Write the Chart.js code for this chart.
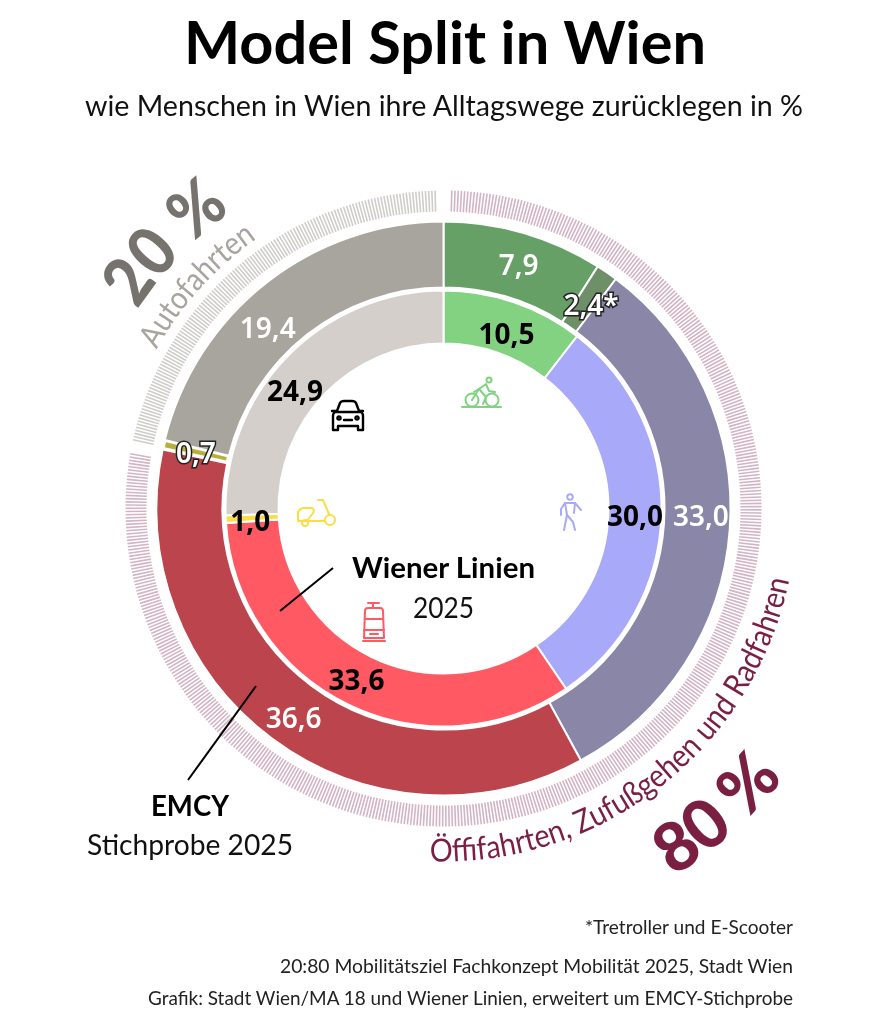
<!DOCTYPE html>
<html lang="de">
<head>
<meta charset="utf-8">
<title>Model Split in Wien</title>
<script src="https://cdn.jsdelivr.net/npm/chart.js@4"></script>
<style>
  html, body { margin: 0; padding: 0; background: #fff; }
  #wrap { position: relative; width: 889px; height: 1024px; overflow: hidden; }
  #myChart, #overlay { position: absolute; left: 0; top: 0; }
  svg text { font-family: Lato, sans-serif; fill: #111; }
  .num { font-family: "Noto Sans", sans-serif; font-weight: 600; font-size: 28px; text-anchor: middle; dominant-baseline: central; }
</style>
</head>
<body>
<div id="wrap">
  <canvas id="myChart" width="889" height="1024"></canvas>
  <svg id="overlay" width="889" height="1024" xmlns="http://www.w3.org/2000/svg"></svg>
</div>
<script>
const categories = ['Rad', 'Tretroller und E-Scooter', 'Zufußgehen', 'Öffifahrten', 'Moped', 'Autofahrten'];

// Wiener Linien 2025, inner ring
const wlCategories = ['Rad', 'Zufußgehen', 'Öffifahrten', 'Moped', 'Autofahrten'];
const wlValues = [10.5, 30.0, 33.6, 1.0, 24.9];
const wlLabels = ['10,5', '30,0', '33,6', '1,0', '24,9'];
// slice sizes (degrees), the thin moped slice is not to scale there
const wlSweep = [37.8, 108, 120.4, 2.0, 91.8];

// EMCY Stichprobe 2025, outer ring
const emcyValues = [7.9, 2.4, 33.0, 36.6, 0.7, 19.4];
const emcyLabels = ['7,9', '2,4*', '33,0', '36,6', '0,7', '19,4'];
// the reference does not draw this ring to scale, these are the sweeps read off it (degrees)
const emcySweep = [32.5, 4.4, 114.5, 130.6, 1.8, 76.2];

// target ring 80/20, sweeps in degrees with the small gaps between the two parts
const goalSweep = [1.5, 278.5, 2.5, 76.5, 1];
const goalColors = [null, '#d3b4c3', null, '#cfcdca', null];

const wlColors = ['#82d282', '#a9a9f9', '#ff5a64', '#f7df45', '#d4cfca'];
const emcyColors = ['#66a066', '#6f8f69', '#8a86a8', '#bc444c', '#b9b03c', '#a8a49e'];
const emcyBorders = [2, 2, 2, 2, 3.5, 2];
const wlBorders = [2, 2, 2, 2, 2];

const wlTextColors = ['#000', '#000', '#000', '#000', '#000'];
const emcyTextColors = ['#fff', '#fff', '#fff', '#fff', '#fff', '#fff'];
// nudge of each value label from the middle of its slice
const wlNudge = [[1, 6], [0, 0], [-3, -2], [-2, 2], [-11, 14.5]];
const emcyNudge = [[4, -1], [3, 4], [4, -12], [2, 5], [0, 0], [-19, 18]];
const outlined = { '2,4*': true, '0,7': true };

const hatchRing = {
  id: 'hatchRing',
  afterDatasetsDraw(chart) {
    const c = chart.ctx;
    const step = 0.58 * Math.PI / 180;
    chart.getDatasetMeta(0).data.forEach((arc, i) => {
      if (!goalColors[i]) return;
      c.save();
      c.strokeStyle = goalColors[i];
      c.lineWidth = 1.6;
      for (let a = arc.startAngle; a < arc.endAngle; a += step) {
        c.beginPath();
        c.moveTo(arc.x + arc.innerRadius * Math.cos(a), arc.y + arc.innerRadius * Math.sin(a));
        c.lineTo(arc.x + arc.outerRadius * Math.cos(a), arc.y + arc.outerRadius * Math.sin(a));
        c.stroke();
      }
      c.restore();
    });
  }
};

const ctx = document.getElementById('myChart').getContext('2d');
const spacer = weight => ({ data: [1], backgroundColor: 'transparent', borderWidth: 0, weight: weight });

const myChart = new Chart(ctx, {
  type: 'doughnut',
  data: {
    labels: categories,
    datasets: [
      { data: goalSweep, backgroundColor: 'transparent', borderWidth: 0, weight: 21 },
      spacer(10),
      { label: 'EMCY', data: emcySweep, backgroundColor: emcyColors, borderColor: '#fff', borderWidth: emcyBorders, weight: 66 },
      spacer(3),
      { label: 'Wiener Linien', data: wlSweep, backgroundColor: wlColors, borderColor: '#fff', borderWidth: wlBorders, weight: 53 }
    ]
  },
  options: {
    responsive: false,
    animation: false,
    radius: 318,
    cutout: (165 / 318 * 100) + '%',
    layout: { padding: { right: 2, bottom: 7 } },
    plugins: { legend: { display: false }, tooltip: { enabled: false } }
  },
  plugins: [hatchRing]
});

// ---- text and icons on top, as svg
const svg = document.getElementById('overlay');
const NS = 'http://www.w3.org/2000/svg';
const cx = myChart.getDatasetMeta(2).data[0].x;
const cy = myChart.getDatasetMeta(2).data[0].y;

function el(name, attrs, parent) {
  const e = document.createElementNS(NS, name);
  for (const k in attrs) e.setAttribute(k, attrs[k]);
  (parent || svg).appendChild(e);
  return e;
}

function txt(s, x, y, size, weight, anchor, fill, width) {
  const t = el('text', { x: x, y: y, 'font-size': size, 'font-weight': weight, 'text-anchor': anchor || 'start' });
  if (fill) t.style.fill = fill;
  if (width) { t.setAttribute('textLength', width); t.setAttribute('lengthAdjust', 'spacingAndGlyphs'); }
  t.textContent = s;
  return t;
}

// text along a circle round the chart centre, angles clockwise from 12 o'clock
function arcText(s, r, from, to, size, weight, fill, id) {
  const pt = d => {
    const a = d * Math.PI / 180;
    return (cx + r * Math.sin(a)).toFixed(1) + ' ' + (cy - r * Math.cos(a)).toFixed(1);
  };
  const sweep = to > from ? 1 : 0;
  const large = Math.abs(to - from) > 180 ? 1 : 0;
  el('path', { id: id, d: `M ${pt(from)} A ${r} ${r} 0 ${large} ${sweep} ${pt(to)}`, fill: 'none' });
  const t = el('text', { 'font-size': size, 'font-weight': weight });
  t.style.fill = fill;
  const p = el('textPath', { href: '#' + id, textLength: (Math.abs(to - from) * Math.PI / 180 * r).toFixed(1), lengthAdjust: 'spacingAndGlyphs' }, t);
  p.textContent = s;
}

txt('Model Split in Wien', 445, 64, 60, 700, 'middle', '#000', 522);
txt('wie Menschen in Wien ihre Alltagswege zurücklegen in %', 444, 116, 29, 400, 'middle', '#111', 718);

arcText('Autofahrten', 328, -61, -34.7, 32, 400, '#a8a49e', 'p20a');
arcText('20 %', 365, -57, -35.5, 68, 900, '#76736f', 'p20b');
arcText('Öffifahrten, Zufußgehen und Radfahren', 353, 182.2, 101.7, 32, 400, '#7a1f42', 'p80a');
arcText('80 %', 434, 148, 128.4, 68, 900, '#7a1f42', 'p80b');

txt('Wiener Linien', 352, 578, 29, 700, 'start', '#000', 183);
txt('2025', 413, 618, 29, 400, 'start', '#111', 61);
txt('EMCY', 151, 816, 28, 700, 'start', '#000', 78);
txt('Stichprobe 2025', 87, 855, 29, 400, 'start', '#111', 206);

txt('*Tretroller und E-Scooter', 793, 934, 19, 400, 'end', '#222', 208);
txt('20:80 Mobilitätsziel Fachkonzept Mobilität 2025, Stadt Wien', 793, 973, 19, 400, 'end', '#222', 513);
txt('Grafik: Stadt Wien/MA 18 und Wiener Linien, erweitert um EMCY-Stichprobe', 793, 1005, 19, 400, 'end', '#222', 645);

// leader lines
el('line', { x1: 333, y1: 568, x2: 280, y2: 611, stroke: '#000', 'stroke-width': 2 });
el('line', { x1: 256, y1: 686, x2: 188, y2: 780, stroke: '#000', 'stroke-width': 2 });

// value labels, placed from the library's arcs
function valueLabels(datasetIndex, labels, colors, nudge, weight) {
  myChart.getDatasetMeta(datasetIndex).data.forEach((arc, i) => {
    const p = arc.getCenterPoint();
    const t = el('text', { x: p.x + nudge[i][0], y: p.y + nudge[i][1], class: 'num' });
    t.style.fill = colors[i];
    t.style.fontWeight = weight;
    t.textContent = labels[i];
    if (outlined[labels[i]]) {
      t.style.stroke = '#222';
      t.style.strokeWidth = '3px';
      t.style.paintOrder = 'stroke';
    }
  });
}
valueLabels(2, emcyLabels, emcyTextColors, emcyNudge, 600);
valueLabels(4, wlLabels, wlTextColors, wlNudge, 700);

// mode icons
function icon(x, y, color, width, parts) {
  const g = el('g', { transform: `translate(${x} ${y})`, fill: 'none', stroke: color, 'stroke-width': width, 'stroke-linecap': 'round', 'stroke-linejoin': 'round' });
  parts.forEach(p => el('path', { d: p }, g));
}
const circle = (x, y, r) => `M ${x - r} ${y} a ${r} ${r} 0 1 0 ${2 * r} 0 a ${r} ${r} 0 1 0 ${-2 * r} 0`;

icon(462, 377, wlColors[0], 2, [
  'M 0 30 H 39', circle(10, 23, 6.5), circle(30, 23, 6.5), circle(27, 3, 2.5),
  'M 10 23 L 17 12 L 24 7 L 27 14 L 33 15', 'M 17 12 L 24 20 L 21 27', 'M 12 15 L 17 12'
]);
icon(332, 400, '#000', 2.4, [
  'M 5 11 L 8 3 Q 9 1 12 1 H 20 Q 23 1 24 3 L 27 11', 'M 0 11 H 5 M 27 11 H 31',
  'M 3 12 Q 1 13 1 16 V 30 H 6 V 26 H 26 V 30 H 31 V 16 Q 31 13 29 12 Z', circle(7, 18, 1.6), circle(25, 18, 1.6), 'M 12 20 H 20'
]);
icon(297, 499, wlColors[3], 2, [
  circle(33, 21, 5), 'M 21 1 H 26 L 32 15', 'M 28 22 H 11', 'M 6 9 H 15 Q 18 11 16 14 L 10 22 H 1 V 15 Q 1 10 6 9 Z', circle(8, 24, 3)
]);
icon(560, 494, wlColors[1], 2, [
  circle(10, 3, 2.8), 'M 5 9 H 15 L 21 16', 'M 5 9 L 1 15 V 21', 'M 5 9 L 7 21 L 13 28 L 15 36', 'M 7 21 L 4 36', 'M 15 9 L 14 19'
]);
icon(363, 602, wlColors[2], 2, [
  'M 5 1 H 16 M 10 1 V 6', 'M 5 6 H 17 Q 20 6 20 9 L 21 36 H 1 L 2 9 Q 2 6 5 6 Z', 'M 2 17 H 20', 'M 1 28 H 21', 'M 7 32 H 15', 'M 0 39 H 22'
]);
</script>
</body>
</html>
